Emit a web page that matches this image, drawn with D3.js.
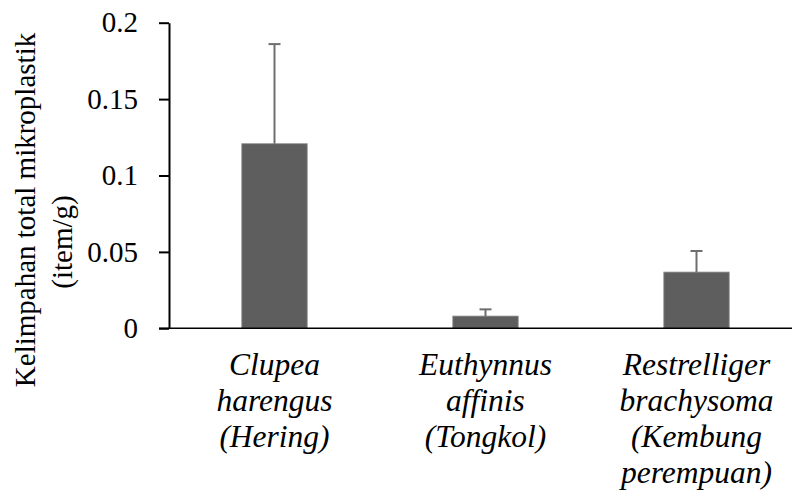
<!DOCTYPE html>
<html>
<head>
<meta charset="utf-8">
<script src="https://cdn.jsdelivr.net/npm/d3@7"></script>
<style>
  html, body { margin: 0; padding: 0; background: #fff; }
  svg { display: block; overflow: hidden; }
</style>
</head>
<body>
<script>
// Microplastic abundance per species (item/g), mean with standard deviation
const categories = ["Clupea harengus", "Euthynnus affinis", "Restrelliger brachysoma"];
const categoryLines = [
  ["Clupea", "harengus", "(Hering)"],
  ["Euthynnus", "affinis", "(Tongkol)"],
  ["Restrelliger", "brachysoma", "(Kembung", "perempuan)"]
];
const meanValues = [0.1208, 0.0080, 0.0368];
const errorValues = [0.0652, 0.0044, 0.0138];
const yTicks = [0, 0.05, 0.1, 0.15, 0.2];
const yTickLabels = ["0", "0.05", "0.1", "0.15", "0.2"];
const yTitleLines = ["Kelimpahan total mikroplastik", "(item/g)"];

const width = 792, height = 497;
const fontSize = 29;
const labelSize = 31.5;
const serif = "'Liberation Serif', 'Times New Roman', Times, serif";

const svg = d3.select("body").append("svg")
  .attr("width", width)
  .attr("height", height)
  .style("font-family", serif);

const x = d3.scaleBand()
  .domain(categories)
  .range([169, 802])
  .paddingInner(0.69)
  .paddingOuter(0.345);

const y = d3.scaleLinear()
  .domain([0, 0.2])
  .range([328.3, 22.7]);

// Bars
svg.append("g").selectAll("rect")
  .data(categories)
  .join("rect")
  .attr("x", (d) => x(d))
  .attr("width", x.bandwidth())
  .attr("y", (d, i) => y(meanValues[i]))
  .attr("height", (d, i) => y(0) - y(meanValues[i]))
  .attr("fill", "#5e5e5e")
  .attr("stroke", "#8f8f8f")
  .attr("stroke-width", 0.8);

// Error bars (upper side only)
const err = svg.append("g").attr("stroke", "#6e6e6e").attr("stroke-width", 2);
categories.forEach((c, i) => {
  const cx = x(c) + x.bandwidth() / 2;
  const top = y(meanValues[i] + errorValues[i]);
  err.append("line")
    .attr("x1", cx).attr("x2", cx)
    .attr("y1", y(meanValues[i])).attr("y2", top);
  err.append("line")
    .attr("x1", cx - 6).attr("x2", cx + 6)
    .attr("y1", top).attr("y2", top);
});

// Y axis
const yAxis = svg.append("g")
  .attr("transform", "translate(169,0)")
  .call(d3.axisLeft(y)
    .tickValues(yTicks)
    .tickFormat((d, i) => yTickLabels[i])
    .tickSize(10)
    .tickSizeOuter(0)
    .tickPadding(21));
yAxis.attr("font-family", null).attr("font-size", null);
yAxis.select(".domain").attr("stroke", "#000").attr("stroke-width", 2);
yAxis.selectAll(".tick line").attr("stroke", "#000").attr("stroke-width", 2);
yAxis.selectAll(".tick text")
  .style("font-family", serif)
  .style("font-size", fontSize + "px")
  .attr("fill", "#000");

// X axis line
const xAxis = svg.append("g")
  .attr("transform", `translate(0,${y(0)})`)
  .call(d3.axisBottom(x).tickSize(0).tickSizeOuter(0).tickFormat(""));
xAxis.select(".domain")
  .attr("stroke", "#000")
  .attr("stroke-width", 1.6)
  .attr("d", "M159,0H812");

// Category labels, italic, multi-line
const labels = svg.append("g");
categories.forEach((c, i) => {
  const cx = x(c) + x.bandwidth() / 2;
  const t = labels.append("text")
    .attr("text-anchor", "middle")
    .style("font-family", serif)
    .style("font-style", "italic")
    .style("font-size", labelSize + "px")
    .attr("fill", "#000");
  categoryLines[i].forEach((line, j) => {
    t.append("tspan")
      .attr("x", cx)
      .attr("y", 375 + j * 36)
      .text(line);
  });
});

// Y-axis title, two rotated lines
const titleCenters = [[35, 210], [72, 242]];
yTitleLines.forEach((line, j) => {
  svg.append("text")
    .attr("transform", `translate(${titleCenters[j][0]},${titleCenters[j][1]}) rotate(-90)`)
    .attr("text-anchor", "middle")
    .style("font-family", serif)
    .style("font-size", fontSize + "px")
    .attr("fill", "#000")
    .text(line);
});
</script>
</body>
</html>
